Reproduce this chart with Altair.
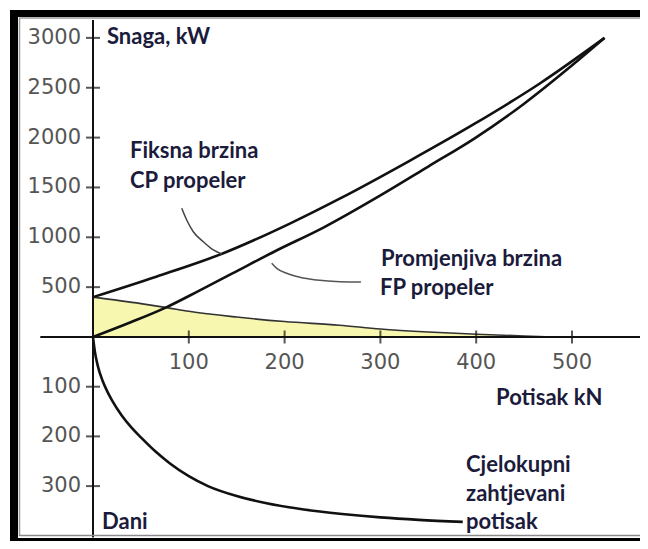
import altair as alt
import pandas as pd

# ---------------- data ----------------
# Fixed-speed CP propeller: thrust kN -> power kW
cp_thrust = [0, 66, 136, 206, 258, 330, 398, 466, 534]
cp_power = [400, 605, 840, 1140, 1390, 1765, 2137, 2540, 3000]

# Variable-speed FP propeller
fp_thrust = [0, 40, 77, 110, 146, 190, 241, 300, 350, 398, 450, 502, 534]
fp_power = [0, 150, 300, 460, 640, 860, 1100, 1420, 1710, 1990, 2340, 2740, 3000]

# Shaded (yellow) area: power saving region
area_thrust = [0, 50, 77, 100, 150, 200, 257, 300, 350, 400, 450, 480]
area_power = [400, 335, 295, 258, 200, 155, 118, 80, 50, 28, 10, 0]

# Total required thrust, in days (plotted downwards)
days_thrust = [0, 2, 5, 10, 15, 20, 30, 40, 50, 65, 80, 100, 120, 150, 180, 220, 260, 300, 340, 386]
days_value = [0, 30, 58, 88, 110, 128, 158, 182, 202, 230, 254, 280, 300, 320, 334, 347, 356, 363, 368, 372]

# Leader lines of the annotations (thrust, kW)
lead1_thrust = [92.6, 97.8, 104.7, 115.1, 125.6, 134.3]
lead1_power = [1291, 1174, 1056, 955, 873, 833]
lead2_thrust = [186.5, 191.8, 202.2, 216, 233.5, 257.8, 279.7]
lead2_power = [739, 689, 639, 599, 572, 555, 552]

# Tick labels
y_ticks_kw = [500, 1000, 1500, 2000, 2500, 3000]
y_ticks_days = [100, 200, 300]
x_ticks = [100, 200, 300, 400, 500]

# Annotation texts and their anchor (thrust, kW)
ann_text = ["Snaga, kW", "Fiksna brzina", "CP propeler", "Promjenjiva brzina",
            "FP propeler", "Potisak kN", "Cjelokupni", "zahtjevani", "potisak", "Dani"]
ann_thrust = [14.6, 38.6, 38.6, 300.6, 299.6, 420.7, 389.4, 389.4, 389.4, 9.4]
ann_power = [3009, 1866, 1565, 782, 491, -612, -1284, -1575, -1856, -1856]

# ---------------- layout ----------------
W, H = 632, 533
X0_PX, X_PPU = 85.0, 0.958      # pixel of thrust 0, px per kN
Y0_PX, Y_PPU = 329.0, 0.0997    # pixel of power 0, px per kW
DAY_TO_KW = 0.497 / Y_PPU       # one day drawn like this many kW

xdom = [-X0_PX / X_PPU, (W - X0_PX) / X_PPU]
ydom = [-(H - Y0_PX) / Y_PPU, Y0_PX / Y_PPU]
xs = alt.Scale(domain=xdom, nice=False, zero=False)
ys = alt.Scale(domain=ydom, nice=False, zero=False)


def X(f):
    return alt.X(f, type="quantitative", scale=xs, axis=None)


def Y(f):
    return alt.Y(f, type="quantitative", scale=ys, axis=None)


LINE = "#111111"
TXT = "#1b1b3c"
LAB = "#555555"

cp = pd.DataFrame({"t": cp_thrust, "p": cp_power})
fp = pd.DataFrame({"t": fp_thrust, "p": fp_power})
ar = pd.DataFrame({"t": area_thrust, "p": area_power, "z": [0] * len(area_thrust)})
dy = pd.DataFrame({"t": days_thrust, "p": [-d * DAY_TO_KW for d in days_value]})
l1 = pd.DataFrame({"t": lead1_thrust, "p": lead1_power})
l2 = pd.DataFrame({"t": lead2_thrust, "p": lead2_power})

area = alt.Chart(ar).mark_area(color="#f7f7b0", interpolate="monotone").encode(
    x=X("t"), y=Y("p"), y2="z:Q")
area_edge = alt.Chart(ar).mark_line(color="#333333", strokeWidth=1.6, interpolate="monotone").encode(
    x=X("t"), y=Y("p"))
cp_line = alt.Chart(cp).mark_line(color=LINE, strokeWidth=2.6, interpolate="monotone").encode(
    x=X("t"), y=Y("p"))
fp_line = alt.Chart(fp).mark_line(color=LINE, strokeWidth=2.6, interpolate="monotone").encode(
    x=X("t"), y=Y("p"))
days_line = alt.Chart(dy).mark_line(color=LINE, strokeWidth=2.6, interpolate="monotone").encode(
    x=X("t"), y=Y("p"))
lead1 = alt.Chart(l1).mark_line(color="#444444", strokeWidth=1.5, interpolate="monotone").encode(
    x=X("t"), y=Y("p"))
lead2 = alt.Chart(l2).mark_line(color="#555555", strokeWidth=1.5, interpolate="monotone").encode(
    x=X("t"), y=Y("p"))

# axis lines
yax = pd.DataFrame({"x": [0], "y1": [3180], "y2": [-2010]})
xax = pd.DataFrame({"y": [0], "x1": [-55], "x2": [xdom[1]]})
y_axis_line = alt.Chart(yax).mark_rule(color=LINE, strokeWidth=2).encode(
    x=X("x"), y=Y("y1"), y2="y2:Q")
x_axis_line = alt.Chart(xax).mark_rule(color=LINE, strokeWidth=2).encode(
    y=Y("y"), x=X("x1"), x2="x2:Q")

ytk = pd.DataFrame({"v": y_ticks_kw + [-d * DAY_TO_KW for d in y_ticks_days],
                    "lab": [str(v) for v in y_ticks_kw] + [str(d) for d in y_ticks_days],
                    "z": [0] * (len(y_ticks_kw) + len(y_ticks_days))})
xtk = pd.DataFrame({"v": x_ticks, "lab": [str(v) for v in x_ticks], "z": [0] * len(x_ticks)})

y_tick_marks = alt.Chart(ytk).mark_tick(orient="horizontal", color=LINE, thickness=2, size=14).encode(
    x=X("z"), y=Y("v"))
x_tick_marks = alt.Chart(xtk).mark_tick(orient="vertical", color=LINE, thickness=2, size=13).encode(
    y=Y("z"), x=X("v"))
y_tick_labels = alt.Chart(ytk).mark_text(align="right", baseline="middle", font="DejaVu Sans",
                                         fontSize=21, color=LAB, dx=-12).encode(
    x=X("z"), y=Y("v"), text="lab:N")
x_tick_labels = alt.Chart(xtk).mark_text(align="center", baseline="middle", font="DejaVu Sans",
                                         fontSize=21, color=LAB, dy=26).encode(
    y=Y("z"), x=X("v"), text="lab:N")

ann = pd.DataFrame({"t": ann_thrust, "p": ann_power, "txt": ann_text})
annotations = alt.Chart(ann).mark_text(align="left", baseline="middle", font="Lato",
                                       fontWeight="bold", fontSize=22, color=TXT).encode(
    x=X("t"), y=Y("p"), text="txt:N")

# window frame (decoration)
one = pd.DataFrame({"a": [0]})
frame = [
    # left black border + grey inner edge
    alt.Chart(one).mark_rule(color="#000000", strokeWidth=8).encode(
        x=alt.value(6), y=alt.value(2), y2=alt.value(H)),
    alt.Chart(one).mark_rule(color="#9a9a9a", strokeWidth=1.5).encode(
        x=alt.value(11.5), y=alt.value(10), y2=alt.value(H - 5)),
    # top black border + grey inner edge
    alt.Chart(one).mark_rule(color="#000000", strokeWidth=7).encode(
        y=alt.value(5.5), x=alt.value(2), x2=alt.value(W)),
    alt.Chart(one).mark_rule(color="#9a9a9a", strokeWidth=1.5).encode(
        y=alt.value(10), x=alt.value(11), x2=alt.value(W)),
    # bottom: grey edge + black border
    alt.Chart(one).mark_rule(color="#8a8a8a", strokeWidth=1.5).encode(
        y=alt.value(H - 5.5), x=alt.value(11), x2=alt.value(W)),
    alt.Chart(one).mark_rule(color="#000000", strokeWidth=3).encode(
        y=alt.value(H - 1.5), x=alt.value(2), x2=alt.value(W)),
]

chart = alt.layer(
    area, area_edge, cp_line, fp_line, days_line, lead1, lead2,
    y_axis_line, x_axis_line, y_tick_marks, x_tick_marks,
    y_tick_labels, x_tick_labels, annotations, *frame
).properties(
    width=W, height=H,
    autosize=alt.AutoSizeParams(type="none"),
    padding=0,
    background="white",
).configure_view(strokeWidth=0)

chart.save("out.html", embed_options={"renderer": "svg", "actions": False})
